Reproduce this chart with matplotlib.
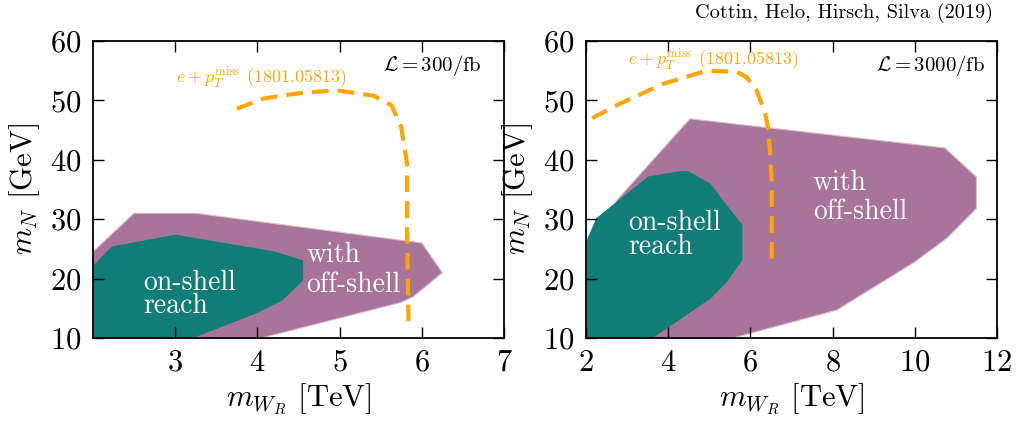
import matplotlib
matplotlib.use("Agg")
import matplotlib.pyplot as plt
from matplotlib.patches import Polygon

plt.rcParams['font.family'] = 'serif'
plt.rcParams['font.serif'] = ['cmr10', 'DejaVu Serif']
plt.rcParams['mathtext.fontset'] = 'cm'
plt.rcParams['axes.formatter.use_mathtext'] = True

PURPLE = '#a97499'
TEAL = '#117d78'
ORANGE = '#ffa500'

# --- L = 300/fb ---
offshell_300_x = [2.0, 2.0, 2.5, 3.25, 6.0, 6.25, 5.9, 5.75, 4.05]
offshell_300_y = [10, 24.5, 31, 31, 26, 21, 17, 16, 10]
onshell_300_x = [2.0, 2.0, 2.23, 3.0, 4.2, 4.55, 4.55, 4.3, 4.0, 3.2]
onshell_300_y = [10, 22, 25.3, 27.3, 24.5, 23, 19.7, 16.4, 14.3, 10]
ep_300_x = [3.75, 4.07, 4.5, 4.96, 5.41, 5.63, 5.75, 5.82, 5.82, 5.84]
ep_300_y = [48.6, 50.3, 51.2, 51.7, 50.8, 49.2, 45.5, 39.4, 28.2, 11.3]

# --- L = 3000/fb ---
offshell_3000_x = [2.0, 2.75, 4.53, 10.73, 11.5, 11.5, 10.78, 10.0, 8.1, 5.58, 2.0]
offshell_3000_y = [25, 33.2, 46.9, 42.0, 37.1, 31.8, 26.8, 22.8, 14.7, 10, 10]
onshell_3000_x = [2.0, 2.0, 2.26, 2.71, 3.52, 4.29, 4.49, 5.02, 5.26, 5.79, 5.79, 5.42, 5.02, 3.6]
onshell_3000_y = [10, 25.9, 30.1, 32.6, 37.1, 38.0, 38.0, 35.9, 33.7, 29.0, 23.1, 19.5, 16.7, 10]
ep_3000_x = [2.15, 2.75, 3.88, 4.94, 5.67, 5.91, 6.15, 6.36, 6.44, 6.52, 6.52]
ep_3000_y = [47.0, 49.2, 52.8, 55.0, 54.8, 53.9, 51.7, 47.8, 45.0, 36.6, 22.0]


def region(ax, xs, ys, color, edge):
    ax.add_patch(Polygon(list(zip(xs, ys)), closed=True, facecolor=color,
                         edgecolor=edge, lw=0.8, zorder=1))


def style_axes(ax, xlim, xticks):
    ax.set_xlim(*xlim)
    ax.set_ylim(10, 60)
    ax.set_xticks(xticks)
    ax.set_yticks([10, 20, 30, 40, 50, 60])
    ax.tick_params(direction='in', top=True, right=True, length=8, width=1,
                   labelsize=22, pad=8)
    for s in ax.spines.values():
        s.set_linewidth(1.3)
    ax.set_xlabel(r'$m_{W_R}$ [TeV]', fontsize=22, labelpad=4)
    ax.set_ylabel(r'$m_N$ [GeV]', fontsize=22, labelpad=6)


fig = plt.figure(figsize=(10.27, 4.32), dpi=100)
ax1 = fig.add_axes([93 / 1027, 94 / 432, 411 / 1027, 297 / 432])
ax2 = fig.add_axes([586 / 1027, 94 / 432, 411 / 1027, 297 / 432])

# left panel
region(ax1, offshell_300_x, offshell_300_y, PURPLE, '#d9bccf')
region(ax1, onshell_300_x, onshell_300_y, TEAL, TEAL)
ax1.plot(ep_300_x, ep_300_y, color=ORANGE, lw=3, dashes=(4, 2.2), zorder=3)
ax1.text(3.01, 52.9, r'$e+p_T^{\rm miss}$ (1801.05813)', color=ORANGE, fontsize=13)
ax1.text(6.73, 54.9, r'$\mathcal{L}=300/$fb', fontsize=15, ha='right')
ax1.text(2.61, 14.15, 'on-shell\nreach', color='white', fontsize=20,
         va='baseline', linespacing=0.85)
ax1.text(4.6, 17.8, 'with\noff-shell', color='white', fontsize=20,
         va='baseline', linespacing=1.15)
style_axes(ax1, (2, 7), [3, 4, 5, 6, 7])

# right panel
region(ax2, offshell_3000_x, offshell_3000_y, PURPLE, '#d9bccf')
region(ax2, onshell_3000_x, onshell_3000_y, TEAL, TEAL)
ax2.plot(ep_3000_x, ep_3000_y, color=ORANGE, lw=3, dashes=(4, 2.2), zorder=3)
ax2.text(3.03, 55.9, r'$e+p_T^{\rm miss}$ (1801.05813)', color=ORANGE, fontsize=13)
ax2.text(11.71, 54.9, r'$\mathcal{L}=3000/$fb', fontsize=15, ha='right')
ax2.text(3.03, 24.1, 'on-shell\nreach', color='white', fontsize=20,
         va='baseline', linespacing=0.92)
ax2.text(7.52, 30.1, 'with\noff-shell', color='white', fontsize=20,
         va='baseline', linespacing=1.12)
style_axes(ax2, (2, 12), [2, 4, 6, 8, 10, 12])

fig.text(993 / 1027, 1 - 13 / 432, 'Cottin, Helo, Hirsch, Silva (2019)',
         fontsize=14.6, ha='right', va='center')

fig.savefig('out.png', dpi=100)
